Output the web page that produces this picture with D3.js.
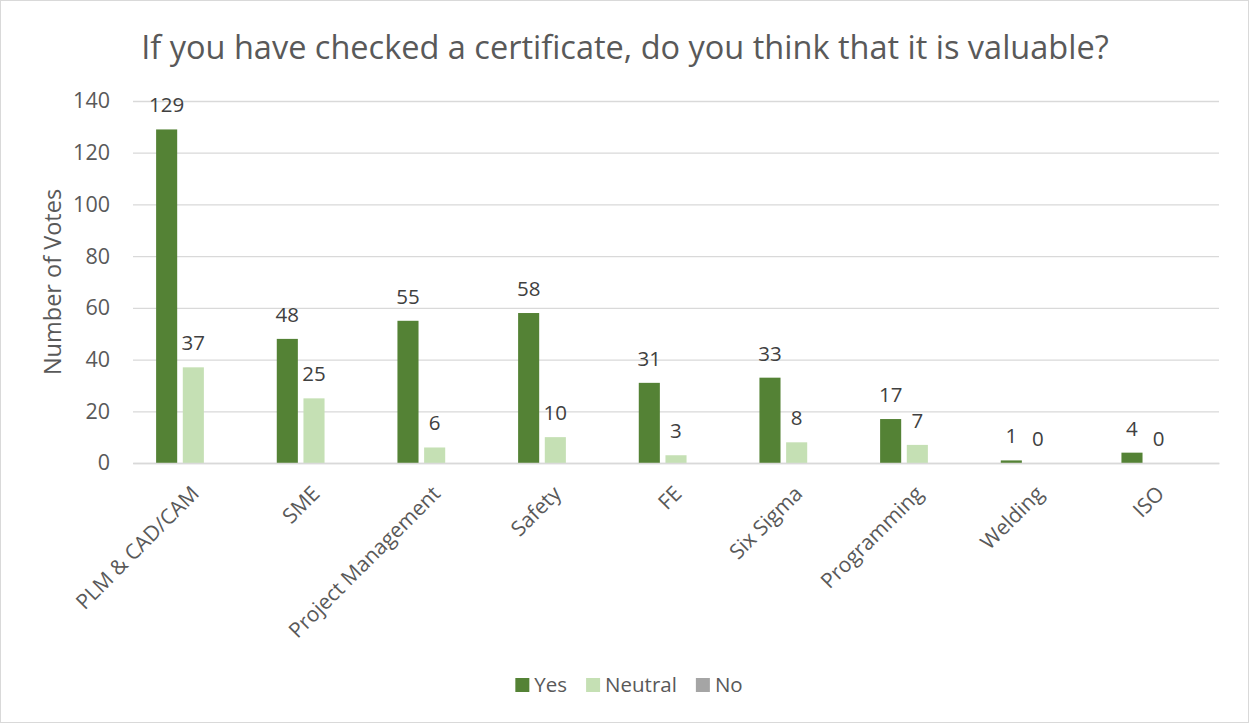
<!DOCTYPE html>
<html>
<head>
<meta charset="utf-8">
<script src="https://cdn.jsdelivr.net/npm/d3@7"></script>
<style>
  body { margin: 0; background: #fff; }
  text { font-family: "Open Sans", sans-serif; }
</style>
</head>
<body>
<div id="chart"></div>
<script>
// Certificate survey chart
let categories = ["PLM & CAD/CAM", "SME", "Project Management", "Safety", "FE", "Six Sigma", "Programming", "Welding", "ISO"];
let seriesNames = ["Yes", "Neutral", "No"];
let yesVotes = [129, 48, 55, 58, 31, 33, 17, 1, 4];
let neutralVotes = [37, 25, 6, 10, 3, 8, 7, 0, 0];
let noVotes = [null, null, null, null, null, null, null, null, null];
let yTicks = [0, 20, 40, 60, 80, 100, 120, 140];

let colors = { "Yes": "#548235", "Neutral": "#c5e0b4", "No": "#a5a5a5" };

let svgWidth = 1249;
let svgHeight = 723;
let margin = { top: 101, right: 30, bottom: 260, left: 133 };
let width = 1219 - margin.left;
let height = 463 - margin.top;

let svg = d3.select("#chart")
  .append("svg")
  .attr("width", svgWidth)
  .attr("height", svgHeight);

// outer chart border
svg.append("rect")
  .attr("x", 0.5).attr("y", 0.5)
  .attr("width", svgWidth - 1).attr("height", svgHeight - 1)
  .attr("fill", "#fff")
  .attr("stroke", "#d9d9d9");

svg.append("text")
  .attr("x", 625)
  .attr("y", 59)
  .attr("text-anchor", "middle")
  .attr("font-size", 32.5)
  .attr("fill", "#595959")
  .text("If you have checked a certificate, do you think that it is valuable?");

let chart = svg.append("g")
  .attr("transform", "translate(" + margin.left + "," + margin.top + ")");

let rows = categories.map(function(c, i) {
  return { category: c, Yes: yesVotes[i], Neutral: neutralVotes[i], No: noVotes[i] };
});

let x0 = d3.scaleBand()
  .domain(categories)
  .range([0, width])
  .paddingInner(0.383)
  .paddingOuter(0.1915);

let x1 = d3.scaleBand()
  .domain(seriesNames)
  .range([0, x0.bandwidth()])
  .paddingInner(0.21);

let y = d3.scaleLinear()
  .domain([0, 140])
  .range([height, 0]);

// gridlines
let leftAxis = d3.axisLeft(y).tickValues(yTicks).tickSize(-width).tickFormat(d3.format("d"));
let yAxisG = chart.append("g").call(leftAxis);
yAxisG.select(".domain").remove();
yAxisG.selectAll(".tick line").attr("stroke", "#d9d9d9").attr("stroke-width", 1.3);
yAxisG.selectAll(".tick text")
  .attr("x", -23)
  .attr("font-size", 21.5)
  .attr("fill", "#595959")
  .attr("font-family", "Open Sans, sans-serif");

// bars
let groups = chart.append("g").selectAll("g")
  .data(rows)
  .enter()
  .append("g")
  .attr("transform", function(d) { return "translate(" + x0(d.category) + ",0)"; });

let cells = groups.selectAll("g")
  .data(function(d) {
    return seriesNames.map(function(s) { return { key: s, value: d[s] }; })
      .filter(function(e) { return e.value !== null; });
  })
  .enter()
  .append("g");

cells.append("rect")
  .attr("x", function(d) { return x1(d.key); })
  .attr("y", function(d) { return y(d.value); })
  .attr("width", x1.bandwidth())
  .attr("height", function(d) { return height - y(d.value); })
  .attr("fill", function(d) { return colors[d.key]; });

cells.append("text")
  .attr("x", function(d) { return x1(d.key) + x1.bandwidth() / 2; })
  .attr("y", function(d) { return y(d.value) - 17; })
  .attr("text-anchor", "middle")
  .attr("font-size", 20.5)
  .attr("fill", "#404040")
  .text(function(d) { return d.value; });

// x axis
let bottomAxis = d3.axisBottom(x0).tickSize(0);
let xAxisG = chart.append("g")
  .attr("transform", "translate(0," + height + ")")
  .call(bottomAxis);
xAxisG.select(".domain").attr("stroke", "#d9d9d9").attr("stroke-width", 1.3);
xAxisG.selectAll(".tick text")
  .attr("font-size", 21)
  .attr("fill", "#595959")
  .attr("font-family", "Open Sans, sans-serif")
  .attr("text-anchor", "end")
  .attr("x", 0)
  .attr("y", 0)
  .attr("dy", 0)
  .attr("transform", "translate(7,32) rotate(-45)");

// y axis title
svg.append("text")
  .attr("transform", "translate(61," + (margin.top + height / 2) + ") rotate(-90)")
  .attr("text-anchor", "middle")
  .attr("font-size", 23.5)
  .attr("fill", "#595959")
  .text("Number of Votes");

// legend
let legend = svg.append("g");
let lx = 0;
seriesNames.forEach(function(s) {
  let item = legend.append("g").attr("transform", "translate(" + lx + ",0)");
  item.append("rect")
    .attr("x", 0).attr("y", -14)
    .attr("width", 14).attr("height", 14)
    .attr("fill", colors[s]);
  let t = item.append("text")
    .attr("x", 19)
    .attr("y", 0)
    .attr("font-size", 20.5)
    .attr("fill", "#595959")
    .text(s);
  lx += 19 + t.node().getComputedTextLength() + 19;
});
let legendWidth = lx - 19;
legend.attr("transform", "translate(" + (629 - legendWidth / 2) + ",692)");
</script>
</body>
</html>
